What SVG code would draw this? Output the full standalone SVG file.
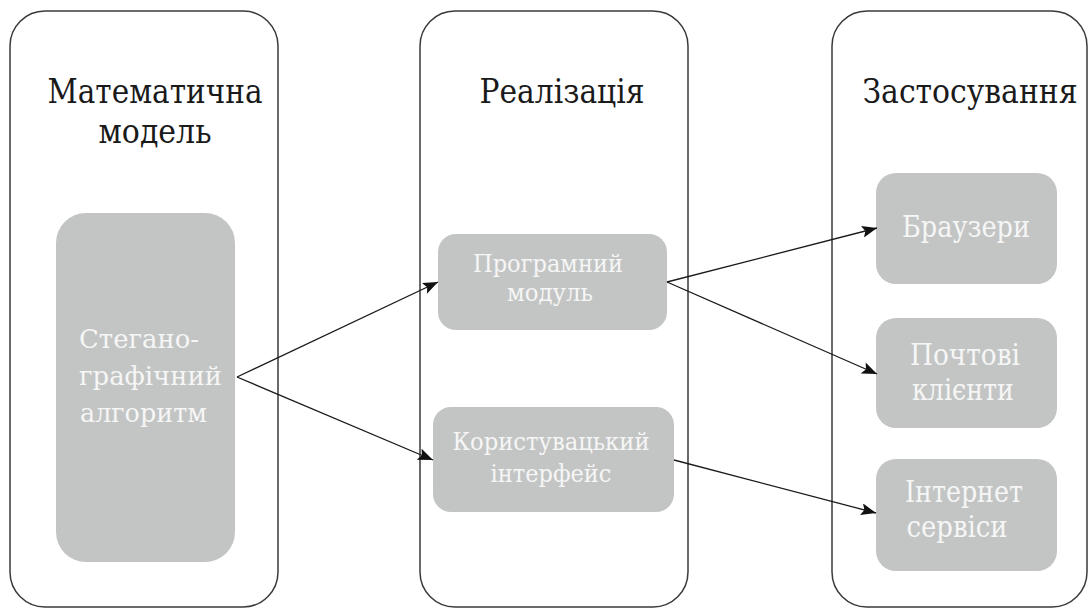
<svg xmlns="http://www.w3.org/2000/svg" width="1089" height="609" viewBox="0 0 1089 609">
<style>
.outer{fill:#fff;stroke:#3a3a3a;stroke-width:1.5}
.inner{fill:#c3c5c4;stroke:none}
text{font-family:'DejaVu Serif','Liberation Serif',serif;font-stretch:condensed}
.title{font-size:34px;fill:#1a1a1a}
.lbl{fill:#f6f6f6}
.conn line{stroke:#1a1a1a;stroke-width:1.3;marker-end:url(#ah)}
</style>
<defs>
<marker id="ah" markerUnits="userSpaceOnUse" markerWidth="16" markerHeight="12" refX="15" refY="6" orient="auto">
<path d="M0,0 L15,6 L0,12 L3,6 z" fill="#111"/>
</marker>
</defs>
<rect width="1089" height="609" fill="#fff"/>
<g id="col-math">
<rect class="outer" x="10" y="11" width="268" height="596" rx="35" ry="35"/>
<text class="title" x="155" y="103" text-anchor="middle" textLength="215" lengthAdjust="spacingAndGlyphs">Математична</text>
<text class="title" x="155" y="143" text-anchor="middle" textLength="113" lengthAdjust="spacingAndGlyphs">модель</text>
</g>
<g id="col-impl">
<rect class="outer" x="420" y="11" width="268" height="596" rx="35" ry="35"/>
<text class="title" x="562" y="103" text-anchor="middle" textLength="165" lengthAdjust="spacingAndGlyphs">Реалізація</text>
</g>
<g id="col-app">
<rect class="outer" x="832" y="11" width="255" height="596" rx="35" ry="35"/>
<text class="title" x="970" y="103" text-anchor="middle" textLength="215" lengthAdjust="spacingAndGlyphs">Застосування</text>
</g>
<g id="node-steg">
<rect class="inner" x="56" y="213" width="179" height="349" rx="30" ry="30"/>
<text class="lbl" font-size="26" x="79" y="348" textLength="120" lengthAdjust="spacingAndGlyphs">Стегано-</text>
<text class="lbl" font-size="26" x="79" y="385" textLength="143" lengthAdjust="spacingAndGlyphs">графічний</text>
<text class="lbl" font-size="26" x="80" y="422" textLength="127" lengthAdjust="spacingAndGlyphs">алгоритм</text>
</g>
<g id="node-prog">
<rect class="inner" x="438" y="234" width="229" height="96" rx="18" ry="18"/>
<text class="lbl" font-size="25" x="548" y="272" text-anchor="middle" textLength="150" lengthAdjust="spacingAndGlyphs">Програмний</text>
<text class="lbl" font-size="25" x="550" y="301" text-anchor="middle" textLength="86" lengthAdjust="spacingAndGlyphs">модуль</text>
</g>
<g id="node-ui">
<rect class="inner" x="433" y="407" width="241" height="105" rx="18" ry="18"/>
<text class="lbl" font-size="25" x="551" y="450" text-anchor="middle" textLength="197" lengthAdjust="spacingAndGlyphs">Користувацький</text>
<text class="lbl" font-size="25" x="551" y="482" text-anchor="middle" textLength="121" lengthAdjust="spacingAndGlyphs">інтерфейс</text>
</g>
<g id="node-browsers">
<rect class="inner" x="876" y="173" width="181" height="111" rx="20" ry="20"/>
<text class="lbl" font-size="30" x="966" y="237" text-anchor="middle" textLength="128" lengthAdjust="spacingAndGlyphs">Браузери</text>
</g>
<g id="node-mail">
<rect class="inner" x="876" y="318" width="181" height="110" rx="20" ry="20"/>
<text class="lbl" font-size="30" x="965" y="365" text-anchor="middle" textLength="110" lengthAdjust="spacingAndGlyphs">Почтові</text>
<text class="lbl" font-size="30" x="963" y="400" text-anchor="middle" textLength="102" lengthAdjust="spacingAndGlyphs">клієнти</text>
</g>
<g id="node-web">
<rect class="inner" x="876" y="459" width="181" height="112" rx="20" ry="20"/>
<text class="lbl" font-size="30" x="964" y="502" text-anchor="middle" textLength="118" lengthAdjust="spacingAndGlyphs">Інтернет</text>
<text class="lbl" font-size="30" x="957" y="537" text-anchor="middle" textLength="101" lengthAdjust="spacingAndGlyphs">сервіси</text>
</g>
<g id="connectors" class="conn">
<line x1="237" y1="377" x2="438" y2="282"/>
<line x1="237" y1="377" x2="433" y2="460"/>
<line x1="667" y1="282" x2="877" y2="228"/>
<line x1="667" y1="282" x2="877" y2="374"/>
<line x1="674" y1="460" x2="876" y2="513"/>
</g>
</svg>
